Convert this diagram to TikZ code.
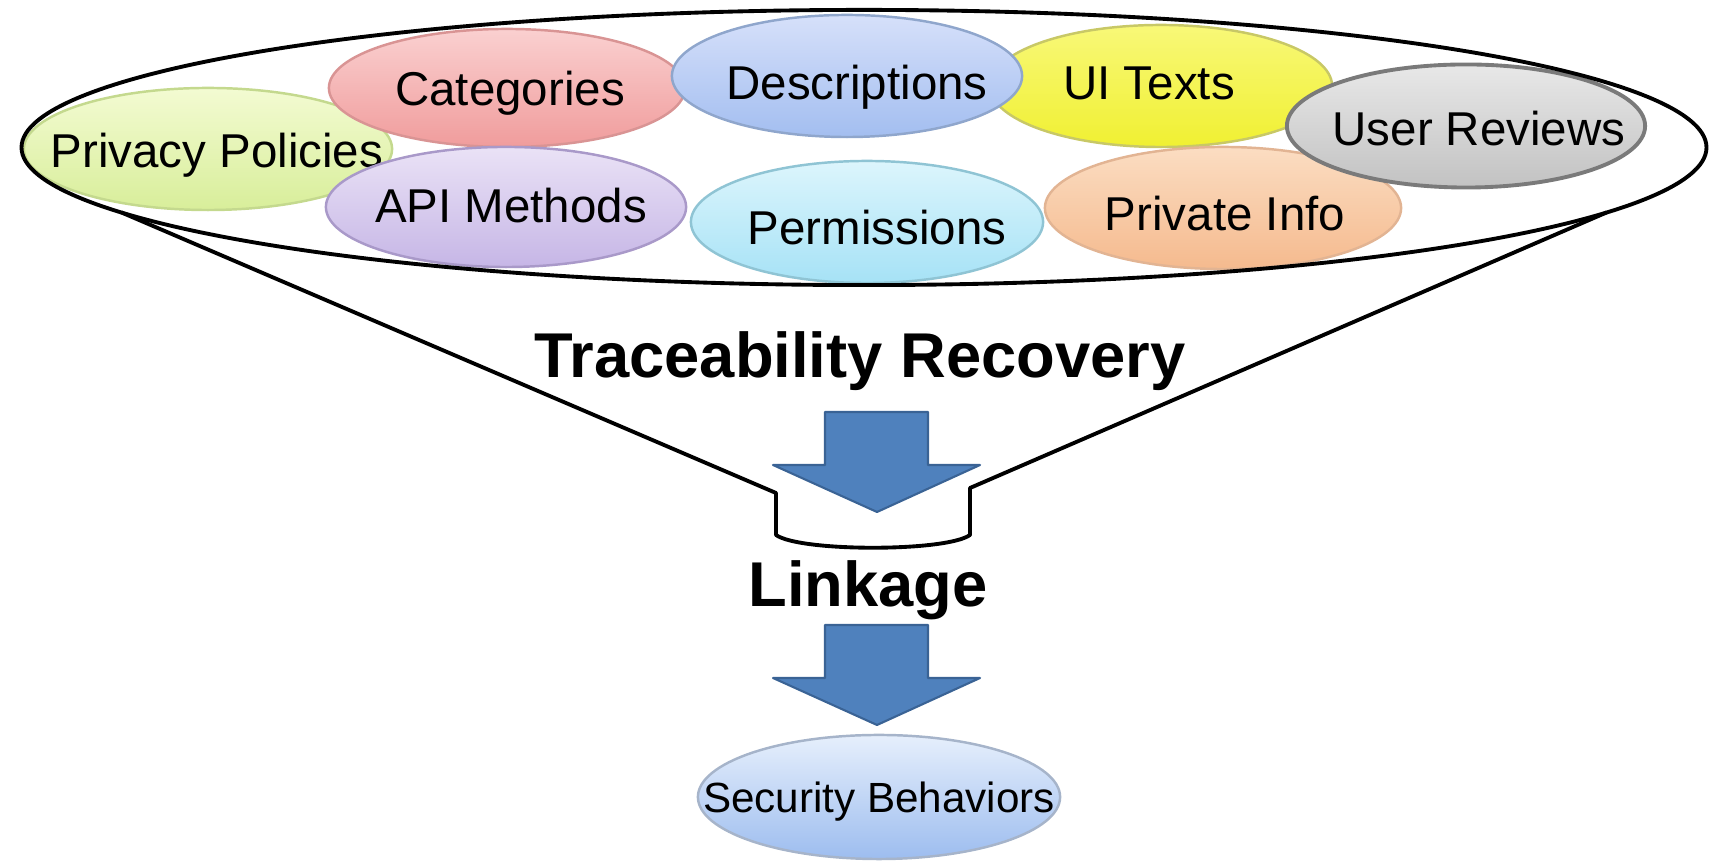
\documentclass[tikz,border=0pt]{standalone}
\usepackage{fontspec}
\setmainfont{Liberation Sans}
\usetikzlibrary{shapes.geometric}

\definecolor{arrowblue}{HTML}{4F81BD}
\definecolor{arrowedge}{HTML}{3A6395}
\definecolor{privtop}{HTML}{F3FBD2}\definecolor{privbot}{HTML}{D8EE9A}\definecolor{privedge}{HTML}{C4D98E}
\definecolor{cattop}{HTML}{FAD0D0}\definecolor{catbot}{HTML}{F09C9C}\definecolor{catedge}{HTML}{D99494}
\definecolor{apitop}{HTML}{EAE2F6}\definecolor{apibot}{HTML}{C6B6E6}\definecolor{apiedge}{HTML}{A999C9}
\definecolor{uitop}{HTML}{F8F878}\definecolor{uibot}{HTML}{F0F032}\definecolor{uiedge}{HTML}{C8C866}
\definecolor{pritop}{HTML}{FBDDC2}\definecolor{pribot}{HTML}{F5BA8E}\definecolor{priedge}{HTML}{E2B493}
\definecolor{revtop}{HTML}{E8E8E8}\definecolor{revbot}{HTML}{C2C2C2}\definecolor{revedge}{HTML}{7A7A7A}
\definecolor{destop}{HTML}{D6E0FA}\definecolor{desbot}{HTML}{A3BEF0}\definecolor{desedge}{HTML}{8FA6CC}
\definecolor{pertop}{HTML}{DCF5FC}\definecolor{perbot}{HTML}{A6E2F6}\definecolor{peredge}{HTML}{8FC4D4}
\definecolor{sectop}{HTML}{E6EFFC}\definecolor{secbot}{HTML}{9DBDEF}\definecolor{secedge}{HTML}{A6B4CA}

% texte decale dans son ellipse (dx, dy, texte)
\newcommand\nudged[3]{\makebox[0pt]{\kern#1\raisebox{#2}{#3}\kern-#1}}

\tikzset{
    % Le style pour chaque source d'artefacts (haut, bas, bord)
    source/.style n args={3}{
        ellipse,
        inner sep=0pt,
        top color=#1,
        bottom color=#2,
        draw=#3,
        line width=0.7pt,
        text height=9.7pt,
        text depth=0pt,
        font=\fontsize{13.5}{16}\selectfont
    },
    % Le grand entonnoir qui regroupe les sources
    funnel/.style={
        draw=black,
        line width=1.1pt,
        line join=round
    },
    % Les fleches pleines entre les etapes
    bigarrow/.style={
        fill=arrowblue,
        draw=arrowedge,
        line width=0.6pt,
        line join=round
    },
    headline/.style={
        font=\fontsize{18}{22}\selectfont\bfseries,
        inner sep=0pt
    }
}

\begin{document}
\begin{tikzpicture}[x=0.01cm, y=-0.01cm]
    \useasboundingbox (0,0) rectangle (1709,862);

    % --- 1. Les sources d'artefacts ---
    \node[source={privtop}{privbot}{privedge}, minimum width=3.68cm, minimum height=1.22cm]
        (privacy) at (208,149) {\nudged{0.9mm}{-0.1mm}{Privacy Policies}};
    \node[source={cattop}{catbot}{catedge}, minimum width=3.56cm, minimum height=1.18cm]
        (categories) at (507,88) {\nudged{0.3mm}{0mm}{Categories}};
    \node[source={apitop}{apibot}{apiedge}, minimum width=3.6cm, minimum height=1.2cm]
        (api) at (506,207) {\nudged{0.5mm}{0.2mm}{API Methods}};
    \node[source={uitop}{uibot}{uiedge}, minimum width=3.42cm, minimum height=1.22cm]
        (uitexts) at (1161,86) {\nudged{-1.2mm}{0.4mm}{UI Texts}};
    \node[source={pritop}{pribot}{priedge}, minimum width=3.56cm, minimum height=1.22cm]
        (private) at (1223,208) {\nudged{0.2mm}{-0.5mm}{Private Info}};
    \node[source={revtop}{revbot}{revedge}, minimum width=3.58cm, minimum height=1.23cm, line width=1.1pt]
        (reviews) at (1466,126) {\nudged{1.3mm}{-0.2mm}{User Reviews}};
    \node[source={destop}{desbot}{desedge}, minimum width=3.5cm, minimum height=1.22cm]
        (descriptions) at (847,76) {\nudged{1mm}{-0.6mm}{Descriptions}};
    \node[source={pertop}{perbot}{peredge}, minimum width=3.52cm, minimum height=1.22cm]
        (permissions) at (867,222) {\nudged{1mm}{-0.5mm}{Permissions}};

    % --- 2. L'entonnoir ---
    \node[ellipse, funnel, outer sep=0pt, inner sep=0pt, minimum width=16.84cm, minimum height=2.75cm]
        (pool) at (864,147.5) {};
    \coordinate (spoutL) at (776,493);
    \coordinate (spoutLb) at (776,535);
    \coordinate (spoutR) at (970,488);
    \coordinate (spoutRb) at (970,535);
    \draw[funnel] (pool.185) -- (spoutL) -- (spoutLb)
        .. controls +(24,17) and +(-24,17) .. (spoutRb) -- (spoutR) -- (pool.355);

    % --- 3. Les etapes et les fleches ---
    \def\blockarrow{(-52,0) -- (51,0) -- (51,53) -- (103,53) -- (0,100) -- (-104,53) -- (-52,53) -- cycle}

    \node[headline, anchor=base] (tracing) at (860,378) {Traceability Recovery};

    \begin{scope}[shift={(877,412)}]
        \draw[bigarrow] \blockarrow;
    \end{scope}

    \node[headline, anchor=base] (linkage) at (868,607) {Linkage};

    \begin{scope}[shift={(877,625)}]
        \draw[bigarrow] \blockarrow;
    \end{scope}

    \node[source={sectop}{secbot}{secedge}, minimum width=3.62cm, minimum height=1.24cm,
          font=\fontsize{12}{14}\selectfont, text height=8.6pt]
        (security) at (879,797) {\makebox[0pt]{Security Behaviors}};

\end{tikzpicture}
\end{document}
